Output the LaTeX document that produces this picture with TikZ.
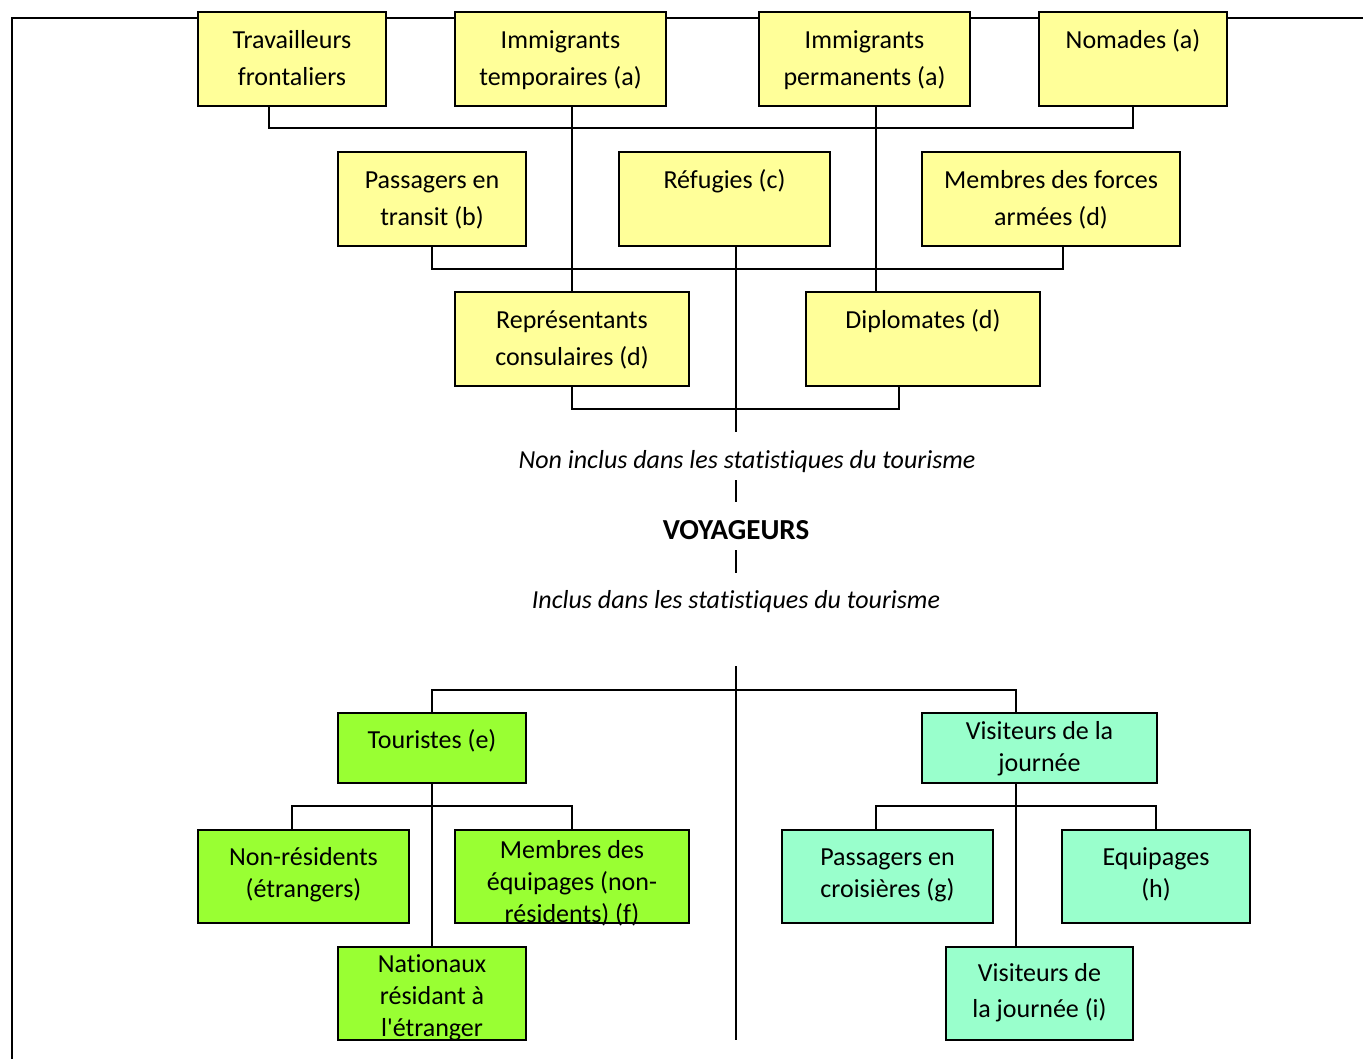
\documentclass[tikz,border=0pt]{standalone}
\usepackage{fontspec}
\setmainfont{Carlito}[Ligatures={TeXOff,NoCommon}]
\definecolor{yel}{HTML}{FFFF99}
\definecolor{limeg}{HTML}{99FF33}
\definecolor{aquag}{HTML}{99FFCC}
\tikzset{
  box/.style={draw=black, line width=2pt, inner sep=0pt, outer sep=0pt, anchor=north west},
  conn/.style={line width=1.8pt, draw=black},
  framel/.style={line width=2.5pt, draw=black},
  lbl/.style={anchor=north, inner sep=0pt, align=center},
  free/.style={anchor=base, inner sep=0pt}
}
% #1 name, #2 x1, #3 y1, #4 x2, #5 y2, #6 fill
\newcommand\mkbox[6]{\node[box, fill=#6, minimum width={#4-#2}, minimum height={#5-#3}] (#1) at (#2,#3) {};}
% #1 box name, #2 baseline offset from top, #3 line spacing, #4 text
\newcommand\btext[4]{\node[lbl, font=\fontsize{26}{#3}\selectfont] (#1t) at ([yshift={-(#2)+0.7*(#3)}]#1.north) {\strut #4};}
\begin{document}
\begin{tikzpicture}[x=1pt,y=-1pt]
\useasboundingbox (0,0) rectangle (1363,1059);
\fill[white] (0,0) rectangle (1363,1059);
% frame
\draw[framel] (12,1059) -- (12,18) -- (1363,18);
% top row
\mkbox{trav}{198}{12}{386}{106}{yel}
\mkbox{imtp}{455}{12}{666}{106}{yel}
\mkbox{impe}{759}{12}{970}{106}{yel}
\mkbox{noma}{1039}{12}{1227}{106}{yel}
% row 2
\mkbox{pass}{338}{152}{526}{246}{yel}
\mkbox{refu}{619}{152}{830}{246}{yel}
\mkbox{forc}{922}{152}{1180}{246}{yel}
% row 3
\mkbox{repr}{455}{292}{689}{386}{yel}
\mkbox{dipl}{806}{292}{1040}{386}{yel}
% lower
\mkbox{tour}{338}{713}{526}{783}{limeg}
\mkbox{visj}{922}{713}{1157}{783}{aquag}
\mkbox{nonr}{198}{830}{409}{923}{limeg}
\mkbox{memb}{455}{830}{689}{923}{limeg}
\mkbox{nati}{338}{947}{526}{1040}{limeg}
\mkbox{croi}{782}{830}{993}{923}{aquag}
\mkbox{equi}{1062}{830}{1250}{923}{aquag}
\mkbox{visi}{946}{947}{1133}{1040}{aquag}
% texts
\btext{trav}{36}{37}{Travailleurs\\frontaliers}
\btext{imtp}{36}{37}{Immigrants\\temporaires (a)}
\btext{impe}{36}{37}{Immigrants\\permanents (a)}
\btext{noma}{36}{37}{Nomades (a)}
\btext{pass}{36}{37}{Passagers en\\transit (b)}
\btext{refu}{36}{37}{Réfugies (c)}
\btext{forc}{36}{37}{Membres des forces\\armées (d)}
\btext{repr}{36}{37}{Représentants\\consulaires (d)}
\btext{dipl}{36}{37}{Diplomates (d)}
\btext{tour}{35}{32}{Touristes (e)}
\btext{visj}{26}{32}{Visiteurs de la\\journée}
\btext{nonr}{35}{32}{Non-résidents\\(étrangers)}
\btext{memb}{28}{32}{Membres des\\équipages (non-\\résidents) (f)}
\btext{nati}{25}{32}{Nationaux\\résidant à\\l'étranger}
\btext{croi}{35}{32}{Passagers en\\croisières (g)}
\btext{equi}{35}{32}{Equipages\\(h)}
\btext{visi}{34}{36}{Visiteurs de\\la journée (i)}
% free labels
\node[free, font=\fontsize{26}{30}\selectfont\itshape] (noninc) at (747,468) {Non inclus dans les statistiques du tourisme};
\node[free, font=\fontsize{29}{32}\selectfont\bfseries] (voy) at (736,539) {VOYAGEURS};
\node[free, font=\fontsize{26}{30}\selectfont\itshape] (inc) at (736,608) {Inclus dans les statistiques du tourisme};
% connectors top
\coordinate (a1) at (269,128);
\coordinate (a2) at (1133,128);
\draw[conn] (trav.south -| a1) -- (a1) -- (a2) -- (noma.south -| a2);
\draw[conn] (imtp.south -| repr.north) -- (repr.north);
\coordinate (c1) at (876,200);
\draw[conn] (impe.south -| c1) -- (dipl.north -| c1);
\coordinate (d1) at (432,269);
\coordinate (d2) at (1063,269);
\draw[conn] (pass.south) -- (d1) -- (d2) -- (forc.south -| d2);
\coordinate (e1) at (736,432);
\draw[conn] (refu.south -| e1) -- (e1);
\coordinate (f1) at (572,409);
\coordinate (f2) at (899,409);
\draw[conn] (repr.south) -- (f1) -- (f2) -- (dipl.south -| f2);
\coordinate (g1) at (736,480);
\coordinate (g2) at (736,502);
\draw[conn] (g1) -- (g2);
\coordinate (g3) at (736,550);
\coordinate (g4) at (736,573);
\draw[conn] (g3) -- (g4);
% connectors bottom
\coordinate (h0) at (736,666);
\coordinate (h1) at (736,1040);
\draw[conn] (h0) -- (h1);
\coordinate (k1) at (432,690);
\coordinate (k2) at (1016,690);
\draw[conn] (tour.north) -- (k1) -- (k2) -- (visj.north -| k2);
\draw[conn] (tour.south) -- (nati.north);
\coordinate (m1) at (292,806);
\coordinate (m2) at (572,806);
\draw[conn] (nonr.north -| m1) -- (m1) -- (m2) -- (memb.north -| m2);
\draw[conn] (visj.south -| k2) -- (visi.north -| k2);
\coordinate (n1) at (876,806);
\coordinate (n2) at (1156,806);
\draw[conn] (croi.north -| n1) -- (n1) -- (n2) -- (equi.north -| n2);
\end{tikzpicture}
\end{document}
